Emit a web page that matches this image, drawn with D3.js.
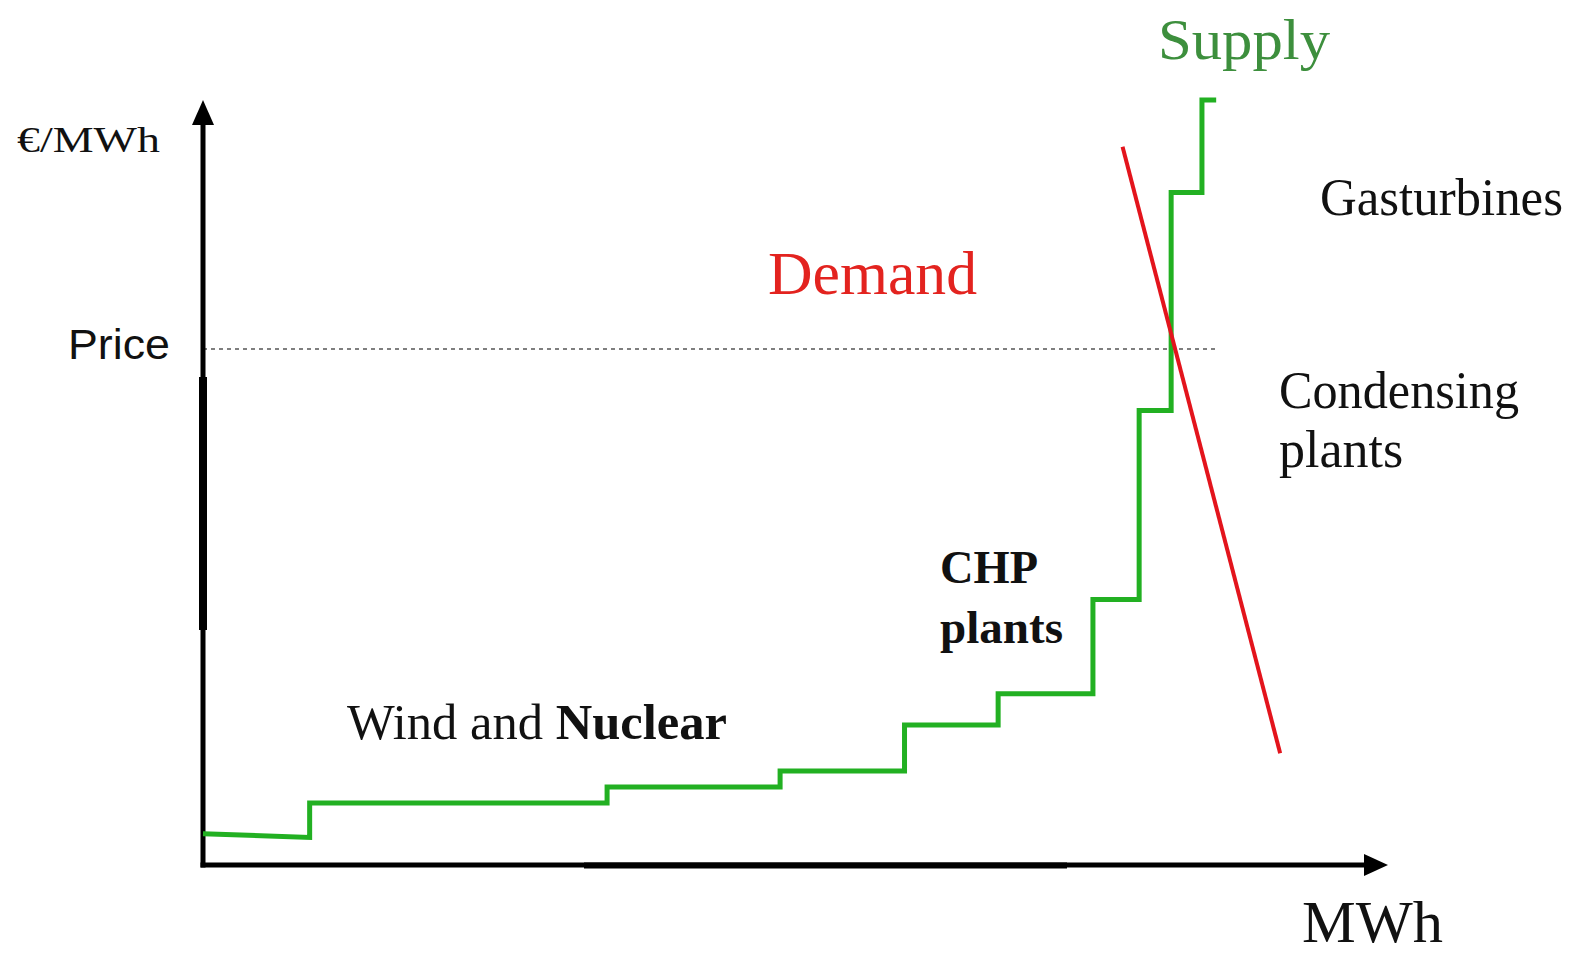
<!DOCTYPE html>
<html>
<head>
<meta charset="utf-8">
<script src="https://cdn.jsdelivr.net/npm/d3@7"></script>
<style>
  html, body { margin: 0; padding: 0; background: #fff; }
  svg { display: block; }
  .serif { font-family: "Liberation Serif", "Times New Roman", serif; }
  .sans { font-family: "Liberation Sans", Arial, sans-serif; }
</style>
</head>
<body>
<svg class="merit-order"></svg>
<script>
'use strict';

// supply curve: start price, then each block's right edge and its price level
var supplyStartPrice = 4.1;
var stepEnds = [9.0, 34.1, 48.7, 59.2, 67.1, 75.1, 79.0, 81.7, 84.3, 85.5];
var stepPrices = [3.6, 8.1, 10.2, 12.3, 18.3, 22.4, 34.7, 59.4, 87.9, 100];

// demand line (two end points)
var demandQty = [77.6, 90.9];
var demandPrice = [93.9, 14.6];

var clearingPrice = 67.45;
var priceLineEnd = 85.5;

var svgWidth = 1579,
    svgHeight = 956;

var svg = d3.select('svg.merit-order')
    .attr('width', svgWidth)
    .attr('height', svgHeight);

var xScale = d3.scaleLinear().domain([0, 100]).range([203, 1388]);
var yScale = d3.scaleLinear().domain([0, 100]).range([865, 100]);

// build the stepped supply vertices from the arrays
var supplyPts = [[0, supplyStartPrice]];
for (var i = 0; i < stepEnds.length; i++) {
    supplyPts.push([stepEnds[i], stepPrices[i]]);
    if (i < stepEnds.length - 1) {
        supplyPts.push([stepEnds[i], stepPrices[i + 1]]);
    }
}

var line = d3.line()
    .x(function(d) { return xScale(d[0]); })
    .y(function(d) { return yScale(d[1]); });

// price level dashed line
svg.append('path')
    .attr('d', line([[0, clearingPrice], [priceLineEnd, clearingPrice]]))
    .attr('stroke', '#555')
    .attr('stroke-width', 1.6)
    .attr('stroke-dasharray', '4,4')
    .attr('fill', 'none');

// axes, no ticks
var xAxis = d3.axisBottom(xScale).ticks(0).tickSizeOuter(0);
var yAxis = d3.axisLeft(yScale).ticks(0).tickSizeOuter(0);

var gx = svg.append('g').attr('transform', 'translate(0,' + yScale(0) + ')').call(xAxis);
var gy = svg.append('g').attr('transform', 'translate(' + xScale(0) + ',0)').call(yAxis);
[gx, gy].forEach(function(g) {
    g.select('.domain')
        .attr('stroke', '#000')
        .attr('stroke-width', 5)
        .attr('stroke-linecap', 'square');
});
// trim the axis lines so they end under the arrow heads
gx.select('.domain').attr('d', 'M' + xScale(0) + ',0H' + (xScale(100) - 18));
gy.select('.domain').attr('d', 'M0,' + yScale(0) + 'V' + (yScale(100) + 18));

// slightly heavier patches on both axes, as in the source image
svg.append('line')
    .attr('x1', xScale(0)).attr('x2', xScale(0))
    .attr('y1', 377).attr('y2', 630)
    .attr('stroke', '#000').attr('stroke-width', 8);
svg.append('line')
    .attr('x1', 584).attr('x2', 1067)
    .attr('y1', yScale(0) + 0.5).attr('y2', yScale(0) + 0.5)
    .attr('stroke', '#000').attr('stroke-width', 6);

// arrow heads
var xe = xScale(100), ye = yScale(0);
svg.append('path')
    .attr('d', 'M' + xe + ',' + ye + 'L' + (xe - 24) + ',' + (ye - 11) + 'L' + (xe - 24) + ',' + (ye + 11) + 'Z')
    .attr('fill', '#000');
var xo = xScale(0), yt = yScale(100);
svg.append('path')
    .attr('d', 'M' + xo + ',' + yt + 'L' + (xo - 11) + ',' + (yt + 25) + 'L' + (xo + 11) + ',' + (yt + 25) + 'Z')
    .attr('fill', '#000');

// supply
svg.append('path')
    .attr('d', line(supplyPts))
    .attr('stroke', '#22b022')
    .attr('stroke-width', 5)
    .attr('stroke-linejoin', 'miter')
    .attr('fill', 'none');

// demand
svg.append('path')
    .attr('d', line(d3.zip(demandQty, demandPrice)))
    .attr('stroke', '#e3141c')
    .attr('stroke-width', 4)
    .attr('fill', 'none');

// labels
var label = function(txt, x, y, size, opts) {
    opts = opts || {};
    var t = svg.append('text')
        .attr('class', opts.sans ? 'sans' : 'serif')
        .attr('x', x)
        .attr('y', y)
        .attr('font-size', size)
        .attr('fill', opts.color || '#111')
        .attr('font-weight', opts.bold ? 'bold' : 'normal')
        .text(txt);
    if (opts.width) {
        t.attr('textLength', opts.width).attr('lengthAdjust', 'spacingAndGlyphs');
    }
    return t;
};

label('€/MWh', 17, 152, 36, {width: 143});
label('Price', 68, yScale(clearingPrice) + 10, 43, {sans: true, width: 102});
label('Supply', 1158, 59, 57, {color: '#3d8f3d', width: 172});
label('Demand', 768, 294, 62, {color: '#e3231f', width: 209});
label('Gasturbines', 1320, 215, 52, {width: 243});
label('Condensing', 1279, 408, 52, {width: 240});
label('plants', 1279, 467, 52);
label('CHP', 940, 583, 46, {bold: true, width: 98});
label('plants', 940, 643, 46, {bold: true, width: 123});

var wn = svg.append('text')
    .attr('class', 'serif')
    .attr('x', 347)
    .attr('y', 739)
    .attr('font-size', 50)
    .attr('fill', '#111')
    .attr('textLength', 380)
    .attr('lengthAdjust', 'spacingAndGlyphs');
wn.append('tspan').text('Wind and ');
wn.append('tspan').attr('font-weight', 'bold').text('Nuclear');

label('MWh', 1302, 942, 60, {width: 141});
</script>
</body>
</html>
